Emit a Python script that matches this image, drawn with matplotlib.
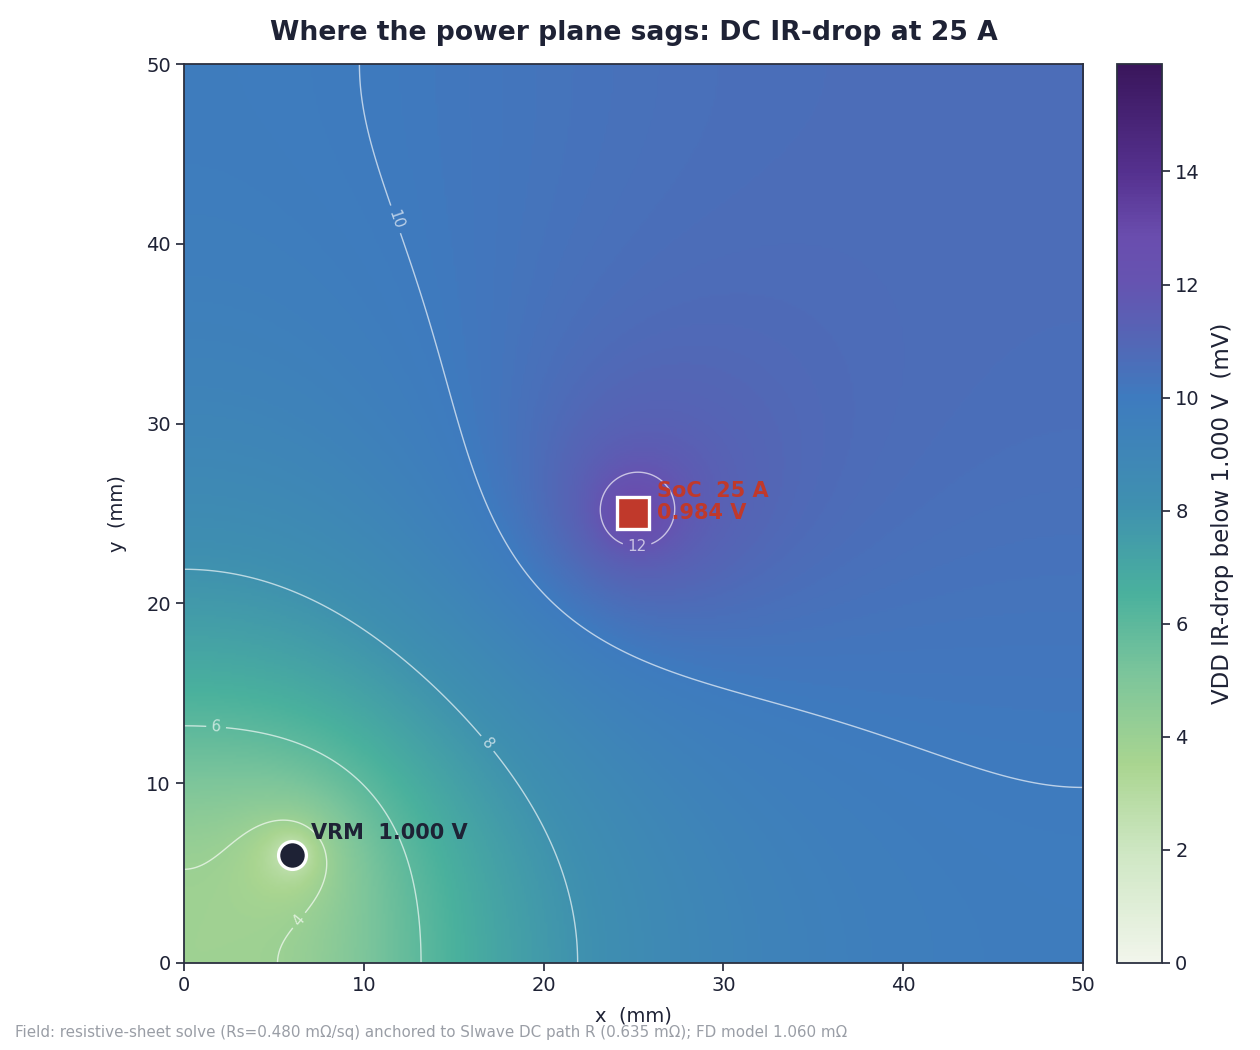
import numpy as np
import matplotlib.pyplot as plt
from matplotlib.colors import LinearSegmentedColormap, Normalize

# board + loads
board_mm = 50.0
vrm_xy = (6.0, 6.0)
soc_xy = (25.0, 25.0)
load_a = 25
vrm_v = 1.000
soc_v = 0.984
rs_mohm_sq = 0.480
r_siwave_mohm = 0.635
r_fd_mohm = 1.060

# mV per neper, anchored to the SIwave path resistance
k_mv = 1.13
pad_eps = 0.07  # mm, regularises the point pads

levels = [2, 4, 6, 8, 10, 12]
label_pos = [(6.0, 6.0), (6.1, 2.6), (1.8, 13.3), (17.0, 12.3), (11.6, 41.3), (25.2, 23.1)]

cmap = LinearSegmentedColormap.from_list("drop", [
    (0.00, "#f1f5eb"),
    (0.12, "#cfe7c4"),
    (0.22, "#a9d590"),
    (0.32, "#7cc59b"),
    (0.41, "#4ab19d"),
    (0.51, "#3f90b0"),
    (0.63, "#3e7bbf"),
    (0.69, "#5367b6"),
    (0.755, "#6554b1"),
    (0.81, "#6a4dae"),
    (0.88, "#55318f"),
    (1.00, "#3a165c"),
])


def mirror(p, n=4):
    # Neumann images of a point in the square board
    out = []
    for m in range(-n, n + 1):
        for q in range(-n, n + 1):
            for sx in (1, -1):
                for sy in (1, -1):
                    out.append((sx * p[0] + 2 * board_mm * m, sy * p[1] + 2 * board_mm * q))
    return out


def phi(x, y):
    f = np.zeros(np.broadcast(x, y).shape)
    for a, b in mirror(vrm_xy):
        f += 0.5 * np.log((x - a) ** 2 + (y - b) ** 2 + pad_eps ** 2)
    for a, b in mirror(soc_xy):
        f -= 0.5 * np.log((x - a) ** 2 + (y - b) ** 2 + pad_eps ** 2)
    return f


xs = np.linspace(0, board_mm, 401)
X, Y = np.meshgrid(xs, xs)
drop = k_mv * (phi(X, Y) - phi(*vrm_xy))
drop = np.clip(drop, 0, None)

fig = plt.figure(figsize=(12.6, 10.5), dpi=100)
ax = fig.add_axes([0.146, 0.083, 0.7135, 0.856])
cax = fig.add_axes([0.8865, 0.083, 0.0357, 0.856])

ink = "#1e2235"
norm = Normalize(0, 15.9)
im = ax.imshow(drop, origin="lower", extent=[0, board_mm, 0, board_mm],
               cmap=cmap, norm=norm, interpolation="bilinear", aspect="auto")
cs = ax.contour(X, Y, drop, levels=levels, colors="white", linewidths=1.0, alpha=0.65)
ax.clabel(cs, fmt="%d", fontsize=11, inline=True, manual=label_pos)

ax.plot(*vrm_xy, "o", ms=20, mfc=ink, mec="white", mew=2.4, zorder=5)
ax.plot(*soc_xy, "s", ms=23, mfc="#c0392b", mec="white", mew=2.4, zorder=5)
ax.text(7.05, 7.25, f"VRM  {vrm_v:.3f} V", color=ink, fontsize=15,
        fontweight="bold", va="center", zorder=6)
ax.text(26.3, 25.65, f"SoC  {load_a} A\n{soc_v:.3f} V", color="#c0392b", fontsize=15,
        fontweight="bold", va="center", linespacing=1.12, zorder=6)

ax.set_xlim(0, board_mm)
ax.set_ylim(0, board_mm)
ax.set_xticks(range(0, 51, 10))
ax.set_yticks(range(0, 51, 10))
ax.set_xlabel("x  (mm)", fontsize=14, color=ink, labelpad=8)
ax.set_ylabel("y  (mm)", fontsize=14, color=ink, labelpad=14)
ax.set_title("Where the power plane sags: DC IR-drop at 25 A", fontsize=19.2,
             fontweight="bold", color=ink, pad=17)
ax.tick_params(labelsize=14, colors=ink, length=6, width=1.2)
for sp in ax.spines.values():
    sp.set_color("#2b3040")
    sp.set_linewidth(1.3)

cb = fig.colorbar(im, cax=cax)
cb.set_ticks(range(0, 15, 2))
cb.ax.tick_params(labelsize=14, colors=ink, length=6, width=1.2)
cb.set_label("VDD IR-drop below 1.000 V  (mV)", fontsize=16.5, color=ink, labelpad=8)
cb.outline.set_edgecolor("#2b3040")
cb.outline.set_linewidth(1.3)

fig.text(0.012, 0.012,
         f"Field: resistive-sheet solve (Rs={rs_mohm_sq:.3f} m\u03a9/sq) anchored to SIwave DC path R "
         f"({r_siwave_mohm:.3f} m\u03a9); FD model {r_fd_mohm:.3f} m\u03a9",
         fontsize=10.9, color="#9a9ea6")

fig.savefig("out.png", dpi=100)
